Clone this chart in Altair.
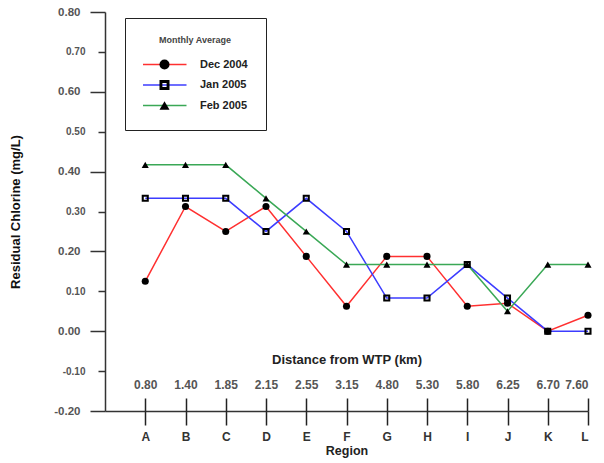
import json
import altair as alt
import pandas as pd

regions = ["A", "B", "C", "D", "E", "F", "G", "H", "I", "J", "K", "L"]
distances = ["0.80", "1.40", "1.85", "2.15", "2.55", "3.15", "4.80", "5.30", "5.80", "6.25", "6.70", "7.60"]
series_names = ["Dec 2004", "Jan 2005", "Feb 2005"]
dec_2004 = [0.125, 0.3125, 0.25, 0.3125, 0.1875, 0.0625, 0.1875, 0.1875, 0.0625, 0.07, 0.0, 0.04]
jan_2005 = [0.333, 0.333, 0.333, 0.25, 0.333, 0.25, 0.083, 0.083, 0.167, 0.083, 0.0, 0.0]
feb_2005 = [0.417, 0.417, 0.417, 0.333, 0.25, 0.167, 0.167, 0.167, 0.167, 0.05, 0.167, 0.167]
y_major_ticks = [-0.2, 0.0, 0.2, 0.4, 0.6, 0.8]
y_minor_ticks = [-0.1, 0.1, 0.3, 0.5, 0.7]

line_colors = ["#ff3030", "#3c3cff", "#3aa856"]
# circle, hollow square (inner square wound the other way), triangle
marker_shapes = ["circle", "M-1,-1H1V1H-1ZM-0.42,-0.42V0.42H0.42V-0.42Z", "triangle-up"]

rows = []
for name, vals in zip(series_names, [dec_2004, jan_2005, feb_2005]):
    for i, v in enumerate(vals):
        rows.append({"pos": i + 1, "region": regions[i], "distance": distances[i],
                     "series": name, "series2": name, "value": v})
df = pd.DataFrame(rows)

W, H = 483, 399
FONT = "Liberation Sans"
LABEL_EXPR = "(datum.value < -0.001 ? '-' : '') + format(abs(datum.value), '.2f')"

region_expr = json.dumps([""] + regions) + "[datum.value]"
dist_expr = json.dumps([""] + distances) + "[datum.value]"

x_scale = alt.Scale(domain=[0, 12], nice=False, zero=False)
y_scale = alt.Scale(domain=[-0.2, 0.8], nice=False, zero=False)

y_axis_major = alt.Axis(
    orient="left", values=y_major_ticks, labelExpr=LABEL_EXPR,
    title="Residual Chlorine (mg/L)",
    titleFont=FONT, titleFontSize=13, titleFontWeight="bold", titleColor="#111",
    titleX=-90, titleY=H / 2, titleAlign="center", titleBaseline="middle", titleAngle=-90,
    labelFont=FONT, labelColor="#555", labelFontWeight="bold", labelFontSize=11.5,
    tickSize=15, labelPadding=10,
    tickColor="#333", tickWidth=1.5, domainColor="#333", domainWidth=1.5,
    grid=False,
)

# minor ticks: a right-hand axis pulled back to just left of the plot's left edge
y_axis_minor = alt.Axis(
    orient="right", offset=-(W + 7), values=y_minor_ticks, labelExpr=LABEL_EXPR,
    title=None, domain=False,
    labelFont=FONT, labelColor="#555", labelFontWeight="bold", labelFontSize=10,
    labelAlign="right", labelPadding=-20,
    tickSize=7, tickColor="#333", tickWidth=1.5, grid=False,
)

bottom_axis = alt.Axis(
    orient="bottom", values=list(range(1, 13)), labelExpr=region_expr,
    title="Region", titleFont=FONT, titleFontSize=12.5, titleFontWeight="bold", titleColor="#222",
    titlePadding=2,
    labelFont=FONT, labelFontSize=12, labelColor="#333", labelFontWeight="bold",
    labelPadding=6, tickSize=14, tickColor="#222", tickWidth=1.5,
    domainColor="#333", domainWidth=1.5, grid=False,
)

top_axis = alt.Axis(
    orient="top", offset=-H, values=list(range(1, 13)), labelExpr=dist_expr,
    title="Distance from WTP (km)", titleFont=FONT, titleFontSize=13, titleFontWeight="bold",
    titleColor="#222", titlePadding=12,
    labelFont=FONT, labelFontSize=12, labelColor="#555", labelFontWeight="bold",
    labelPadding=7, tickSize=13, tickColor="#222", tickWidth=1.5,
    domain=False, grid=False,
)

legend_common = dict(
    orient="none", legendX=20, legendY=6, padding=18,
    titleFont=FONT, titleFontSize=9, titleFontWeight="bold",
    titleColor="#444", titleAnchor="middle", titlePadding=13,
    labelFont=FONT, labelFontSize=11, labelFontWeight="bold", labelColor="#222",
    symbolSize=100, symbolStrokeWidth=1.5, rowPadding=7.5, clipHeight=13,
    symbolOffset=15.5, labelOffset=29.5,
)

lines = alt.Chart(df).mark_line(strokeWidth=1.5).encode(
    x=alt.X("pos:Q", scale=x_scale, axis=bottom_axis),
    y=alt.Y("value:Q", scale=y_scale, axis=y_axis_major),
    color=alt.Color("series:N", sort=series_names,
                    scale=alt.Scale(domain=series_names, range=line_colors),
                    legend=alt.Legend(title="Monthly Average", symbolType="M-4.4,0H4.4",
                                      strokeColor="#222", **legend_common)),
    detail="series:N",
)

points = alt.Chart(df).mark_point(filled=True, color="black", size=50, opacity=1).encode(
    x=alt.X("pos:Q", scale=x_scale, axis=top_axis),
    y=alt.Y("value:Q", scale=y_scale, axis=y_axis_minor),
    shape=alt.Shape("series2:N", sort=series_names,
                    scale=alt.Scale(range=marker_shapes),
                    legend=alt.Legend(title=" ", titleOpacity=0, labelExpr="''",
                                      symbolFillColor="black", symbolStrokeColor="black",
                                      **legend_common)),
)

chart = alt.layer(lines, points).resolve_axis(x="independent", y="independent").properties(
    width=W, height=H,
    autosize=alt.AutoSizeParams(type="none"),
    padding={"left": 105, "top": 12, "right": 16, "bottom": 52},
    background="white",
).configure_view(stroke=None)

chart.save("out.html", embed_options={"renderer": "svg", "actions": False})
